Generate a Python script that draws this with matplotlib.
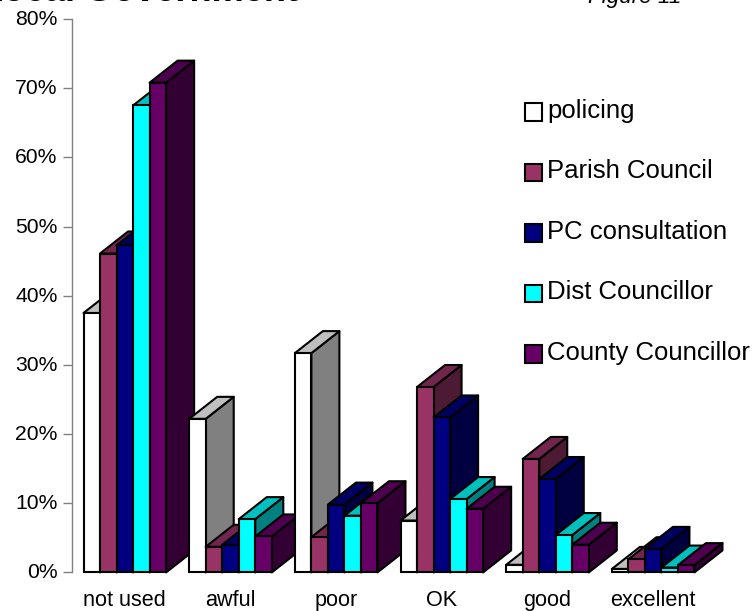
import matplotlib
matplotlib.use("Agg")
import matplotlib.pyplot as plt
from matplotlib.patches import Polygon, Patch
from matplotlib.colors import to_rgb
from matplotlib.transforms import ScaledTranslation

plt.rcParams['font.family'] = ['Liberation Sans', 'DejaVu Sans']

categories = ["not used", "awful", "poor", "OK", "good", "excellent"]
policing = [37.5, 22.2, 31.7, 7.5, 1.1, 0.5]
parish_council = [46.1, 3.7, 5.1, 26.8, 16.4, 1.9]
pc_consultation = [47.3, 4.0, 9.8, 22.4, 13.5, 3.4]
dist_councillor = [67.5, 7.7, 8.2, 10.6, 5.4, 0.7]
county_councillor = [70.8, 5.2, 10.0, 9.2, 4.0, 1.05]

series_names = ["policing", "Parish Council", "PC consultation", "Dist Councillor", "County Councillor"]
series_values = [policing, parish_council, pc_consultation, dist_councillor, county_councillor]
series_colors = ["#FFFFFF", "#993366", "#000080", "#00FFFF", "#660066"]
yticks = [0, 10, 20, 30, 40, 50, 60, 70, 80]

W, H = 754, 611
fig = plt.figure(figsize=(W / 100, H / 100), dpi=100)
left, right, top, bottom = 72, 706, 19, 572.4
ax = fig.add_axes([left / W, 1 - bottom / H, (right - left) / W, (bottom - top) / H])
ax.set_xlim(-0.5, 5.5)
ax.set_ylim(0, 80)

bar_w = 82.6 / ((right - left) / 6) / 5
dx = 28 / ((right - left) / 6)      # depth of the 3-D effect, in data units
dy = 22 / ((bottom - top) / 80)


def shade(color, f):
    return tuple(c * f for c in to_rgb(color))


for g in range(len(categories)):
    for s, (vals, col) in enumerate(zip(series_values, series_colors)):
        v = vals[g]
        x0 = g + (s - 2.5) * bar_w
        x1 = x0 + bar_w
        z = 2 + s * 0.01 + g
        kw = dict(edgecolor="black", linewidth=1.5, clip_on=False, joinstyle="round", zorder=z)
        side_f, top_f = 0.5, 0.75
        ax.add_patch(Polygon([(x1, 0), (x1 + dx, dy), (x1 + dx, v + dy), (x1, v)],
                             facecolor=shade(col, side_f), **kw))
        ax.add_patch(Polygon([(x0, v), (x0 + dx, v + dy), (x1 + dx, v + dy), (x1, v)],
                             facecolor=shade(col, top_f), **kw))
        ax.bar(x0, v, width=bar_w, align="edge", color=col, edgecolor="black",
               linewidth=1.5, clip_on=False, zorder=z)

for sp in ["top", "right", "bottom"]:
    ax.spines[sp].set_visible(False)
ax.spines["left"].set_color("#808080")
ax.spines["left"].set_linewidth(1.0)
ax.set_yticks(yticks)
ax.set_yticklabels([f"{t}%" for t in yticks], fontsize=15.2, color="black")
ax.tick_params(axis="y", length=6.5, width=1.0, color="#808080", pad=4)
for lab in ax.get_yticklabels():
    lab.set_transform(lab.get_transform() + ScaledTranslation(0, 1.5 / 100, fig.dpi_scale_trans))
ax.set_xticks(range(len(categories)))
ax.set_xticklabels(categories, fontsize=15.6)
ax.tick_params(axis="x", length=0, pad=13)

handles = [Patch(facecolor=c, edgecolor="black", linewidth=1.5) for c in series_colors]
leg = fig.legend(handles, series_names, loc="upper left", bbox_to_anchor=(525 / W, 1 - 99 / H),
                 frameon=False, fontsize=18.5, handlelength=0.66, handleheight=0.66,
                 handletextpad=0.2, labelspacing=1.42, borderpad=0, borderaxespad=0)
for p in leg.get_patches():
    p.set_y(p.get_y() - 2.2)

fig.text(-19 / W, 1 - 1 / H, "Local Government", fontsize=26, fontweight="bold", va="baseline", ha="left")
fig.text(588 / W, 1 - 3 / H, "Figure 11", fontsize=16.2, fontstyle="italic", va="baseline", ha="left")

fig.savefig("out.png", dpi=100)
